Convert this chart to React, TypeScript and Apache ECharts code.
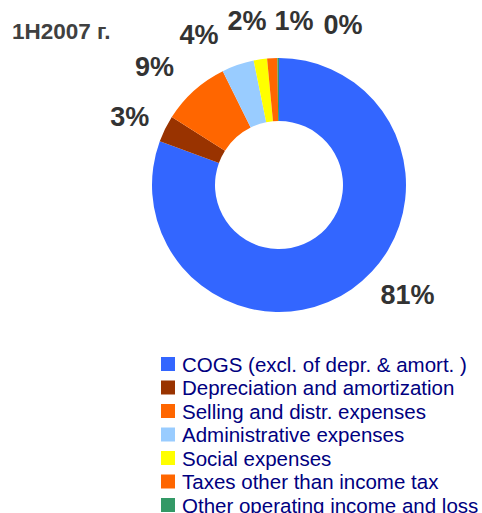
import React, { useEffect, useRef } from "react";
import * as echarts from "echarts";

const categories = [
  "COGS (excl. of depr. & amort. )",
  "Depreciation and amortization",
  "Selling and distr. expenses",
  "Administrative expenses",
  "Social expenses",
  "Taxes other than income tax",
  "Other operating income and loss",
];
const shares = [80.6, 3.4, 8.7, 4.1, 1.7, 1.3, 0.2];
const colors = ["#3366FF", "#993300", "#FF6600", "#99CCFF", "#FFFF00", "#FF6600", "#339966"];
const titleText = "1H2007 г.";
// label anchor points (centre of each percentage label), in pixels
const labelAnchors: [number, number][] = [
  [407.5, 295],
  [129.7, 117],
  [154.5, 66.7],
  [199, 34.7],
  [247, 21.2],
  [294, 21],
  [343, 25.2],
];

const FONT = "'Liberation Sans', Arial, sans-serif";

export default function App() {
  const ref = useRef<HTMLDivElement>(null);
  useEffect(() => {
    document.body.style.margin = "0";
    if (!ref.current) return;
    const chart = echarts.init(ref.current, null, { renderer: "svg" });
    chart.setOption({
      animation: false,
      backgroundColor: "#ffffff",
      title: {
        text: titleText,
        left: 12,
        top: 20,
        padding: 0,
        textStyle: { fontFamily: FONT, fontSize: 22.5, fontWeight: "bold", color: "#404040" },
      },
      legend: {
        orient: "vertical",
        left: 161,
        top: 353.5,
        height: 220,
        padding: 0,
        itemWidth: 14,
        itemHeight: 14,
        itemGap: 2.5,
        icon: "rect",
        selectedMode: false,
        textStyle: { fontFamily: FONT, fontSize: 20.5, color: "#000080", lineHeight: 20, padding: [0, 0, 0, 2] },
        data: categories,
      },
      series: [
        {
          type: "pie",
          center: [279, 185],
          radius: [64, 127],
          startAngle: 90,
          clockwise: true,
          silent: true,
          avoidLabelOverlap: false,
          data: categories.map((name, i) => ({
            name,
            value: shares[i],
            itemStyle: { color: colors[i] },
          })),
          label: {
            show: true,
            position: "outside",
            formatter: (p: any) => Math.round(p.value) + "%",
            fontFamily: FONT,
            fontSize: 27,
            fontWeight: "bold",
            color: "#333333",
          },
          labelLine: { show: false },
          labelLayout: (p: any) => {
            const a = labelAnchors[p.dataIndex];
            return { x: a[0], y: a[1], align: "center", verticalAlign: "middle" };
          },
        },
      ],
    });
    return () => chart.dispose();
  }, []);
  return <div ref={ref} style={{ width: 482, height: 513 }} />;
}
